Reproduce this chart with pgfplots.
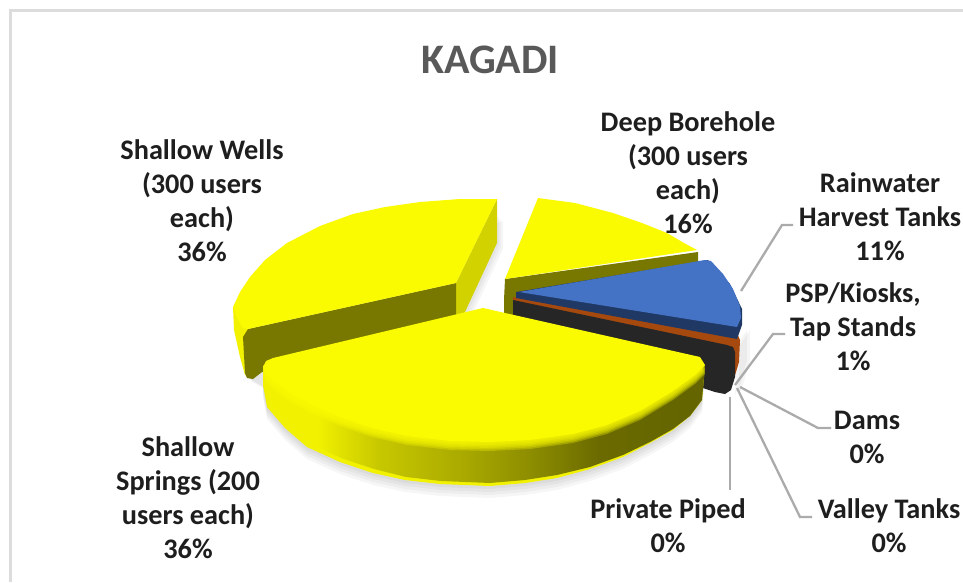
\documentclass[border=0pt]{standalone}
\usepackage{pgfplots}
\pgfplotsset{compat=1.18}
\usepackage{fontspec}
\setmainfont{Carlito}
\definecolor{txt}{HTML}{1E1E1E}
\definecolor{ttl}{HTML}{595959}
\definecolor{lead}{HTML}{ABABAB}
\definecolor{frm}{HTML}{DCDCDC}
\definecolor{yel}{HTML}{FAFA00}
\definecolor{yelB}{HTML}{F2F200}
\definecolor{yelL}{HTML}{D2D200}
\definecolor{oliv}{HTML}{787800}
\definecolor{blu}{HTML}{4472C4}
\definecolor{bluD}{HTML}{203864}
\definecolor{org}{HTML}{A5490E}
\definecolor{blk}{HTML}{262626}
\definecolor{sa}{HTML}{C8C800}
\definecolor{sb}{HTML}{A8A800}
\definecolor{sc}{HTML}{8A8A00}
\definecolor{sd}{HTML}{6A6A00}
\definecolor{se}{HTML}{646400}
\pgfdeclarehorizontalshading{sidewall}{100bp}{color(0bp)=(yelB); color(25bp)=(yelB); color(31bp)=(yelB); color(38bp)=(sa); color(48bp)=(sb); color(56bp)=(sc); color(63bp)=(sd); color(75bp)=(se); color(100bp)=(se)}
\pgfplotstableread{
x y
273 358
483 308
700 357
705 365
695 375
673 391
640 411
607 425
573 434
530 440
490 442
450 441
407 436
372 428
340 417
312 405
290 393
275 382
265 372
263 367
266 361
}\springtop
\pgfplotstableread{
x y
263 367
263 385
267 407
285 428
307 447
340 462
373 473
405 480
440 484
490 486
525 483
557 478
590 469
623 457
650 443
673 430
690 416
702 400
705 365
695 375
490 440
275 382
}\springwall
\newcommand{\lbl}[3]{\node[font=\fontsize{28.3}{34}\selectfont\bfseries,text=txt,align=center,inner sep=0pt] at (axis cs:#1,#2) {#3};}
\begin{document}
\begin{tikzpicture}
\begin{axis}[hide axis,scale only axis,width=963pt,height=582pt,
 xmin=0,xmax=963,ymin=0,ymax=582,y dir=reverse,clip=true]
% page
\addplot[fill=white,draw=none] coordinates {(0,0) (963,0) (963,582) (0,582)} -- cycle;
\addplot[draw=frm,line width=2.4pt] coordinates {(10.5,582) (10.5,10.5) (963,10.5)};
% shadows
\addplot[fill=black,fill opacity=.035,draw=none,yshift=-3pt] table {\springwall} -- cycle;
\addplot[fill=black,fill opacity=.035,draw=none,yshift=-6pt] table {\springwall} -- cycle;
\addplot[fill=black,fill opacity=.035,draw=none,yshift=-9pt] table {\springwall} -- cycle;
\addplot[fill=black,fill opacity=.035,draw=none,yshift=-12pt] table {\springwall} -- cycle;
\addplot[fill=black,fill opacity=.035,draw=none,xshift=2pt,yshift=-2pt] coordinates {(497,215) (497,243) (465,312) (456,330) (262,385) (245,375) (236,345) (233,315)} -- cycle;
\addplot[fill=black,fill opacity=.035,draw=none,xshift=4pt,yshift=-4pt] coordinates {(497,215) (497,243) (465,312) (456,330) (262,385) (245,375) (236,345) (233,315)} -- cycle;
\addplot[fill=black,fill opacity=.035,draw=none,xshift=6pt,yshift=-6pt] coordinates {(497,215) (497,243) (465,312) (456,330) (262,385) (245,375) (236,345) (233,315)} -- cycle;
\addplot[fill=black,fill opacity=.04,draw=none,xshift=2pt] coordinates {(735,345) (745,330) (745,360) (738,385) (733,395)} -- cycle;
\addplot[fill=black,fill opacity=.04,draw=none,xshift=5pt] coordinates {(735,345) (745,330) (745,360) (738,385) (733,395)} -- cycle;
% shallow wells
\addplot[fill=yelL,draw=none] coordinates {(497,199) (497,243) (465,312) (456,318) (456,283)} -- cycle;
\addplot[fill=yelB,draw=none] coordinates {(233,307) (234,330) (240,357) (245,375) (253,378) (262,372) (250,330)} -- cycle;
\addplot[fill=oliv,draw=none] coordinates {(456,283) (456,318) (262,372) (253,379) (247,378) (245,373) (243,337) (248,329)} -- cycle;
\addplot[fill=yel,draw=none] coordinates {(497,199) (460,199) (420,202) (385,207) (353,214) (320,226) (287,243) (265,260) (250,277) (240,292) (233,307) (237,318) (243,328) (248,329) (456,283)} -- cycle;
% deep borehole
\addplot[fill=oliv,draw=none] coordinates {(505,279) (698,252) (698,262) (600,300) (504,318) (504,300)} -- cycle;
\addplot[fill=yel,draw=none] coordinates {(538,198) (575,203) (613,213) (642,223) (667,233) (684,243) (697,250) (505,279)} -- cycle;
% black, orange, blue
\addplot[fill=org,draw=none] coordinates {(513,297) (737,333) (740,340) (739,362) (733,382) (725,385) (513,310)} -- cycle;
\addplot[fill=blk,draw=none] coordinates {(513,300) (727,345) (733,347) (735,352) (735,377) (731,390) (725,394) (715,392) (703,388) (513,318)} -- cycle;
\addplot[fill=bluD,draw=none] coordinates {(516,292) (708,260) (730,284) (742,309) (742,325) (737,339) (516,298)} -- cycle;
\addplot[fill=blu,draw=none] coordinates {(519,292) (705,260) (711,261) (723,274) (733,289) (740,306) (741,318) (737,327)} -- cycle;
% shallow springs
\addplot[fill=yelB,draw=none] table {\springwall} -- cycle;
\addplot[shade,shading=sidewall,draw=none] coordinates {(263,365) (264,382) (268,404) (286,424) (308,443) (341,458) (374,469) (406,477) (441,481) (490,483) (525,480) (557,475) (590,467) (623,455) (650,442) (673,429) (690,416) (702,400) (705,365) (695,375) (490,440) (275,382)} -- cycle;
\addplot[fill=yel,fill opacity=.3,draw=none,yshift=-9pt] table {\springtop} -- cycle;
\addplot[fill=yel,fill opacity=.3,draw=none,yshift=-7.5pt] table {\springtop} -- cycle;
\addplot[fill=yel,fill opacity=.3,draw=none,yshift=-6pt] table {\springtop} -- cycle;
\addplot[fill=yel,fill opacity=.3,draw=none,yshift=-4.5pt] table {\springtop} -- cycle;
\addplot[fill=yel,fill opacity=.3,draw=none,yshift=-3pt] table {\springtop} -- cycle;
\addplot[fill=yel,fill opacity=.3,draw=none,yshift=-1.5pt] table {\springtop} -- cycle;
\addplot[fill=yel,draw=none] table {\springtop} -- cycle;
% leaders
\addplot[draw=lead,line width=2.3pt] coordinates {(741,291) (782,225) (793,225)};
\addplot[draw=lead,line width=2.3pt] coordinates {(735,385) (773,334) (785,334)};
\addplot[draw=lead,line width=2.3pt] coordinates {(740,387) (818,428) (831,428)};
\addplot[draw=lead,line width=2.3pt] coordinates {(737,388) (800,517) (812,517)};
\addplot[draw=lead,line width=2.3pt] coordinates {(730,397) (730,490)};
% text
\node[font=\fontsize{42}{46}\selectfont\bfseries,text=ttl,inner sep=0pt] at (axis cs:490,60) {KAGADI};
\lbl{202}{201}{Shallow Wells\\(300 users\\each)\\36\%}
\lbl{688}{173}{Deep Borehole\\(300 users\\each)\\16\%}
\lbl{880}{217}{Rainwater\\Harvest Tanks\\11\%}
\lbl{853}{327}{PSP/Kiosks,\\Tap Stands\\1\%}
\lbl{867}{437}{Dams\\0\%}
\lbl{889}{526}{Valley Tanks\\0\%}
\lbl{668}{526}{Private Piped\\0\%}
\lbl{188}{498}{Shallow\\Springs (200\\users each)\\36\%}
\end{axis}
\end{tikzpicture}
\end{document}
